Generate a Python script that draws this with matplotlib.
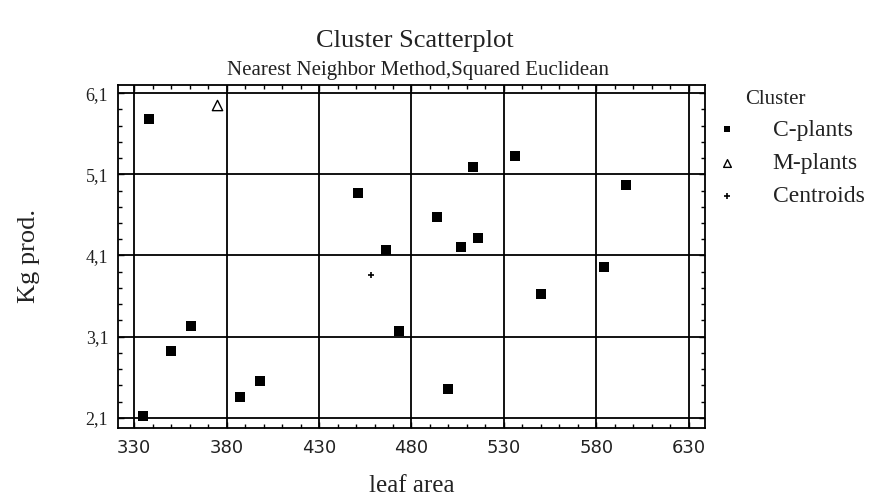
import numpy as np
import matplotlib.pyplot as plt
from matplotlib.ticker import MultipleLocator, FixedLocator

# ============================
# Data
# ============================

c_area = [338, 451, 466, 494, 507, 516, 513, 536, 596, 584,
          550, 473, 500, 335, 350, 361, 387, 398]
c_prod = [5.78, 4.87, 4.17, 4.58, 4.21, 4.32, 5.19, 5.32, 4.97, 3.96,
          3.62, 3.17, 2.45, 2.12, 2.92, 3.23, 2.36, 2.56]

m_area = [375]
m_prod = [5.95]

cent_area = [458]
cent_prod = [3.86]

x_ticks = [330, 380, 430, 480, 530, 580, 630]
y_ticks = [2.1, 3.1, 4.1, 5.1, 6.1]
y_tick_labels = ["2,1", "3,1", "4,1", "5,1", "6,1"]

serif = ["Liberation Serif", "DejaVu Serif"]
ink = "#222222"


fig = plt.figure(figsize=(8.7, 5), dpi=100)
ax = fig.add_axes([118 / 870, 1 - 428 / 500, 587 / 870, 343 / 500])


# Points

ax.scatter(c_area, c_prod, marker="s", s=45, color="black",
           linewidths=0, label="C-plants", zorder=3)
ax.scatter(m_area, m_prod, marker="^", s=55, facecolor="white",
           edgecolor="black", linewidths=1.0, label="M-plants", zorder=3)
ax.scatter(cent_area, cent_prod, marker="+", s=25, color="black",
           linewidths=1.2, label="Centroids", zorder=3)


# Axes, grid, ticks

ax.set_xlim(321.3, 638.7)
ax.set_ylim(1.975, 6.2)

ax.xaxis.set_major_locator(FixedLocator(x_ticks))
ax.xaxis.set_minor_locator(MultipleLocator(10))
ax.set_yticks(y_ticks)
ax.set_yticklabels(y_tick_labels, family=serif, fontsize=13)
ax.yaxis.set_minor_locator(FixedLocator(np.arange(2.1, 6.2, 0.2)))

ax.grid(True, which="major", color="black", linewidth=1.3)
ax.set_axisbelow(True)

ax.tick_params(which="both", direction="in", top=True, right=True,
               color="black", labelcolor=ink)
ax.tick_params(axis="x", labelsize=13, pad=8)
ax.tick_params(axis="y", pad=7)
ax.tick_params(which="major", length=4, width=1)
ax.tick_params(which="minor", length=3, width=1)

for sp in ax.spines.values():
    sp.set_linewidth(1.3)
    sp.set_color("black")


# Labels and titles

ax.set_xlabel("leaf area", fontsize=18, family=serif, color=ink, labelpad=13)
ax.set_ylabel("Kg prod.", fontsize=19, family=serif, color=ink, labelpad=33)

fig.text(0.477, 0.918, "Cluster Scatterplot", ha="center", va="center",
         fontsize=19, family=serif, color=ink)
fig.text(0.48, 0.859, "Nearest Neighbor Method,Squared Euclidean",
         ha="center", va="center", fontsize=15, family=serif, color=ink)


# Legend

fig.text(745 / 870, 1 - 100 / 500, "Cluster", ha="left", va="center",
         fontsize=15, family=serif, color=ink)

ax.legend(loc="upper left", bbox_to_anchor=(715 / 870, 1 - 119 / 500),
          bbox_transform=fig.transFigure, frameon=False,
          prop={"family": serif, "size": 17},
          handlelength=1.0, handletextpad=1.45, labelspacing=0.5,
          markerscale=0.75, borderaxespad=0, borderpad=0,
          labelcolor=ink)


plt.savefig("out.png", dpi=100)
